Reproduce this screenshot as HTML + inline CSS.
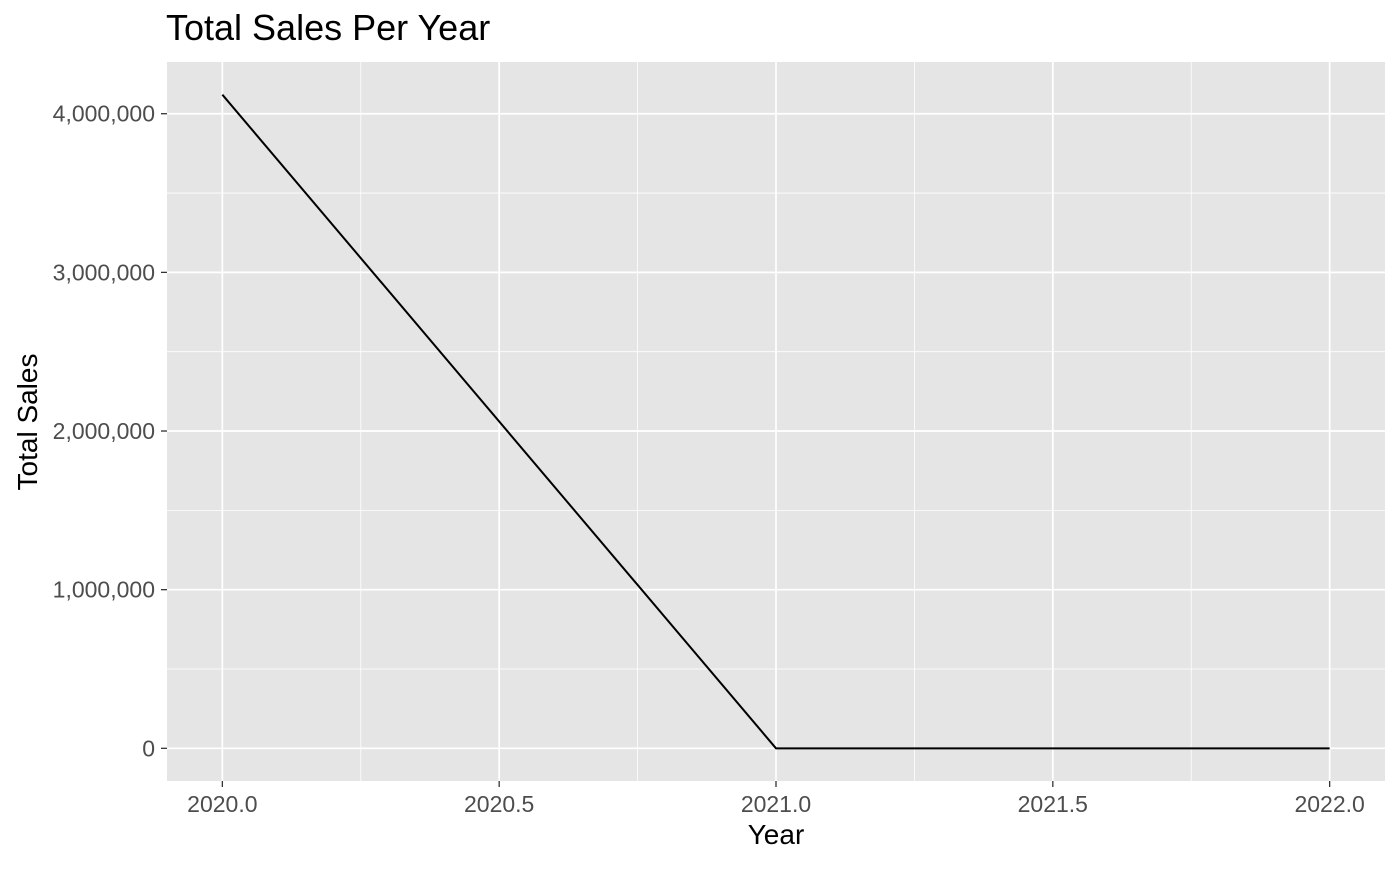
<!DOCTYPE html>
<html><head><meta charset="utf-8"><style>
html,body{margin:0;padding:0;background:#fff;}
svg text{font-family:"Liberation Sans",Arial,sans-serif;}
</style></head><body>
<svg id="chart" width="1400" height="865" xmlns="http://www.w3.org/2000/svg">
<text x="166" y="40" font-size="36" fill="#000">Total Sales Per Year</text>
<g id="panel"></g>
<text x="776" y="844" font-size="28" text-anchor="middle" fill="#000">Year</text>
<text transform="translate(37,422) rotate(-90)" font-size="28" text-anchor="middle" fill="#000">Total Sales</text>
</svg>
<script>
const years = [2020, 2021, 2022];
const sales = [4120000, 0, 0];
const xTicks = [2020.0, 2020.5, 2021.0, 2021.5, 2022.0];
const xTickLabels = ["2020.0", "2020.5", "2021.0", "2021.5", "2022.0"];
const yTicks = [0, 1000000, 2000000, 3000000, 4000000];
const yTickLabels = ["0", "1,000,000", "2,000,000", "3,000,000", "4,000,000"];

const NS = "http://www.w3.org/2000/svg";
const g = document.getElementById("panel");
const L = 167, R = 1385, T = 62, B = 781;
const xmin = Math.min(...years), xmax = Math.max(...years);
const ymin = Math.min(0, ...sales), ymax = Math.max(...sales);
const xpad = (xmax - xmin) * 0.05, ypad = (ymax - ymin) * 0.05;
const X = v => L + (v - (xmin - xpad)) / ((xmax + xpad) - (xmin - xpad)) * (R - L);
const Y = v => B - (v - (ymin - ypad)) / ((ymax + ypad) - (ymin - ypad)) * (B - T);
function mk(tag, attrs){const e=document.createElementNS(NS,tag);for(const k in attrs)e.setAttribute(k,attrs[k]);g.appendChild(e);return e;}

const bg = mk("rect",{x:L,y:T,width:R-L,height:B-T,fill:"#e5e5e5"});



for(let i=0;i<xTicks.length-1;i++){
  const m=(xTicks[i]+xTicks[i+1])/2;
  const l=mk("line",{x1:X(m),x2:X(m),y1:T,y2:B,stroke:"#fff","stroke-width":0.8});
  
  
}
for(let i=0;i<yTicks.length-1;i++){
  const m=(yTicks[i]+yTicks[i+1])/2;
  const l=mk("line",{x1:L,x2:R,y1:Y(m),y2:Y(m),stroke:"#fff","stroke-width":0.8});
  
  
}
xTicks.forEach((v,i)=>{
  const l=mk("line",{x1:X(v),x2:X(v),y1:T,y2:B,stroke:"#fff","stroke-width":1.7});
  
  
  const t=mk("line",{x1:X(v),x2:X(v),y1:B,y2:B+6,stroke:"#333","stroke-width":1.3});
  
  
  const tx=mk("text",{x:X(v),y:B+31,"font-size":23,"text-anchor":"middle",fill:"#4d4d4d"});
  tx.textContent=xTickLabels[i];
  
  
});
yTicks.forEach((v,i)=>{
  const l=mk("line",{x1:L,x2:R,y1:Y(v),y2:Y(v),stroke:"#fff","stroke-width":1.7});
  
  
  const t=mk("line",{x1:L-6,x2:L,y1:Y(v),y2:Y(v),stroke:"#333","stroke-width":1.3});
  
  
  const tx=mk("text",{x:L-12,y:Y(v)+8,"font-size":23,"text-anchor":"end",fill:"#4d4d4d"});
  tx.textContent=yTickLabels[i];
  
  
});
const pts = years.map((y,i)=>X(y)+","+Y(sales[i])).join(" ");
const pl = mk("polyline",{points:pts,fill:"none",stroke:"#000","stroke-width":2});


</script>
</body></html>
